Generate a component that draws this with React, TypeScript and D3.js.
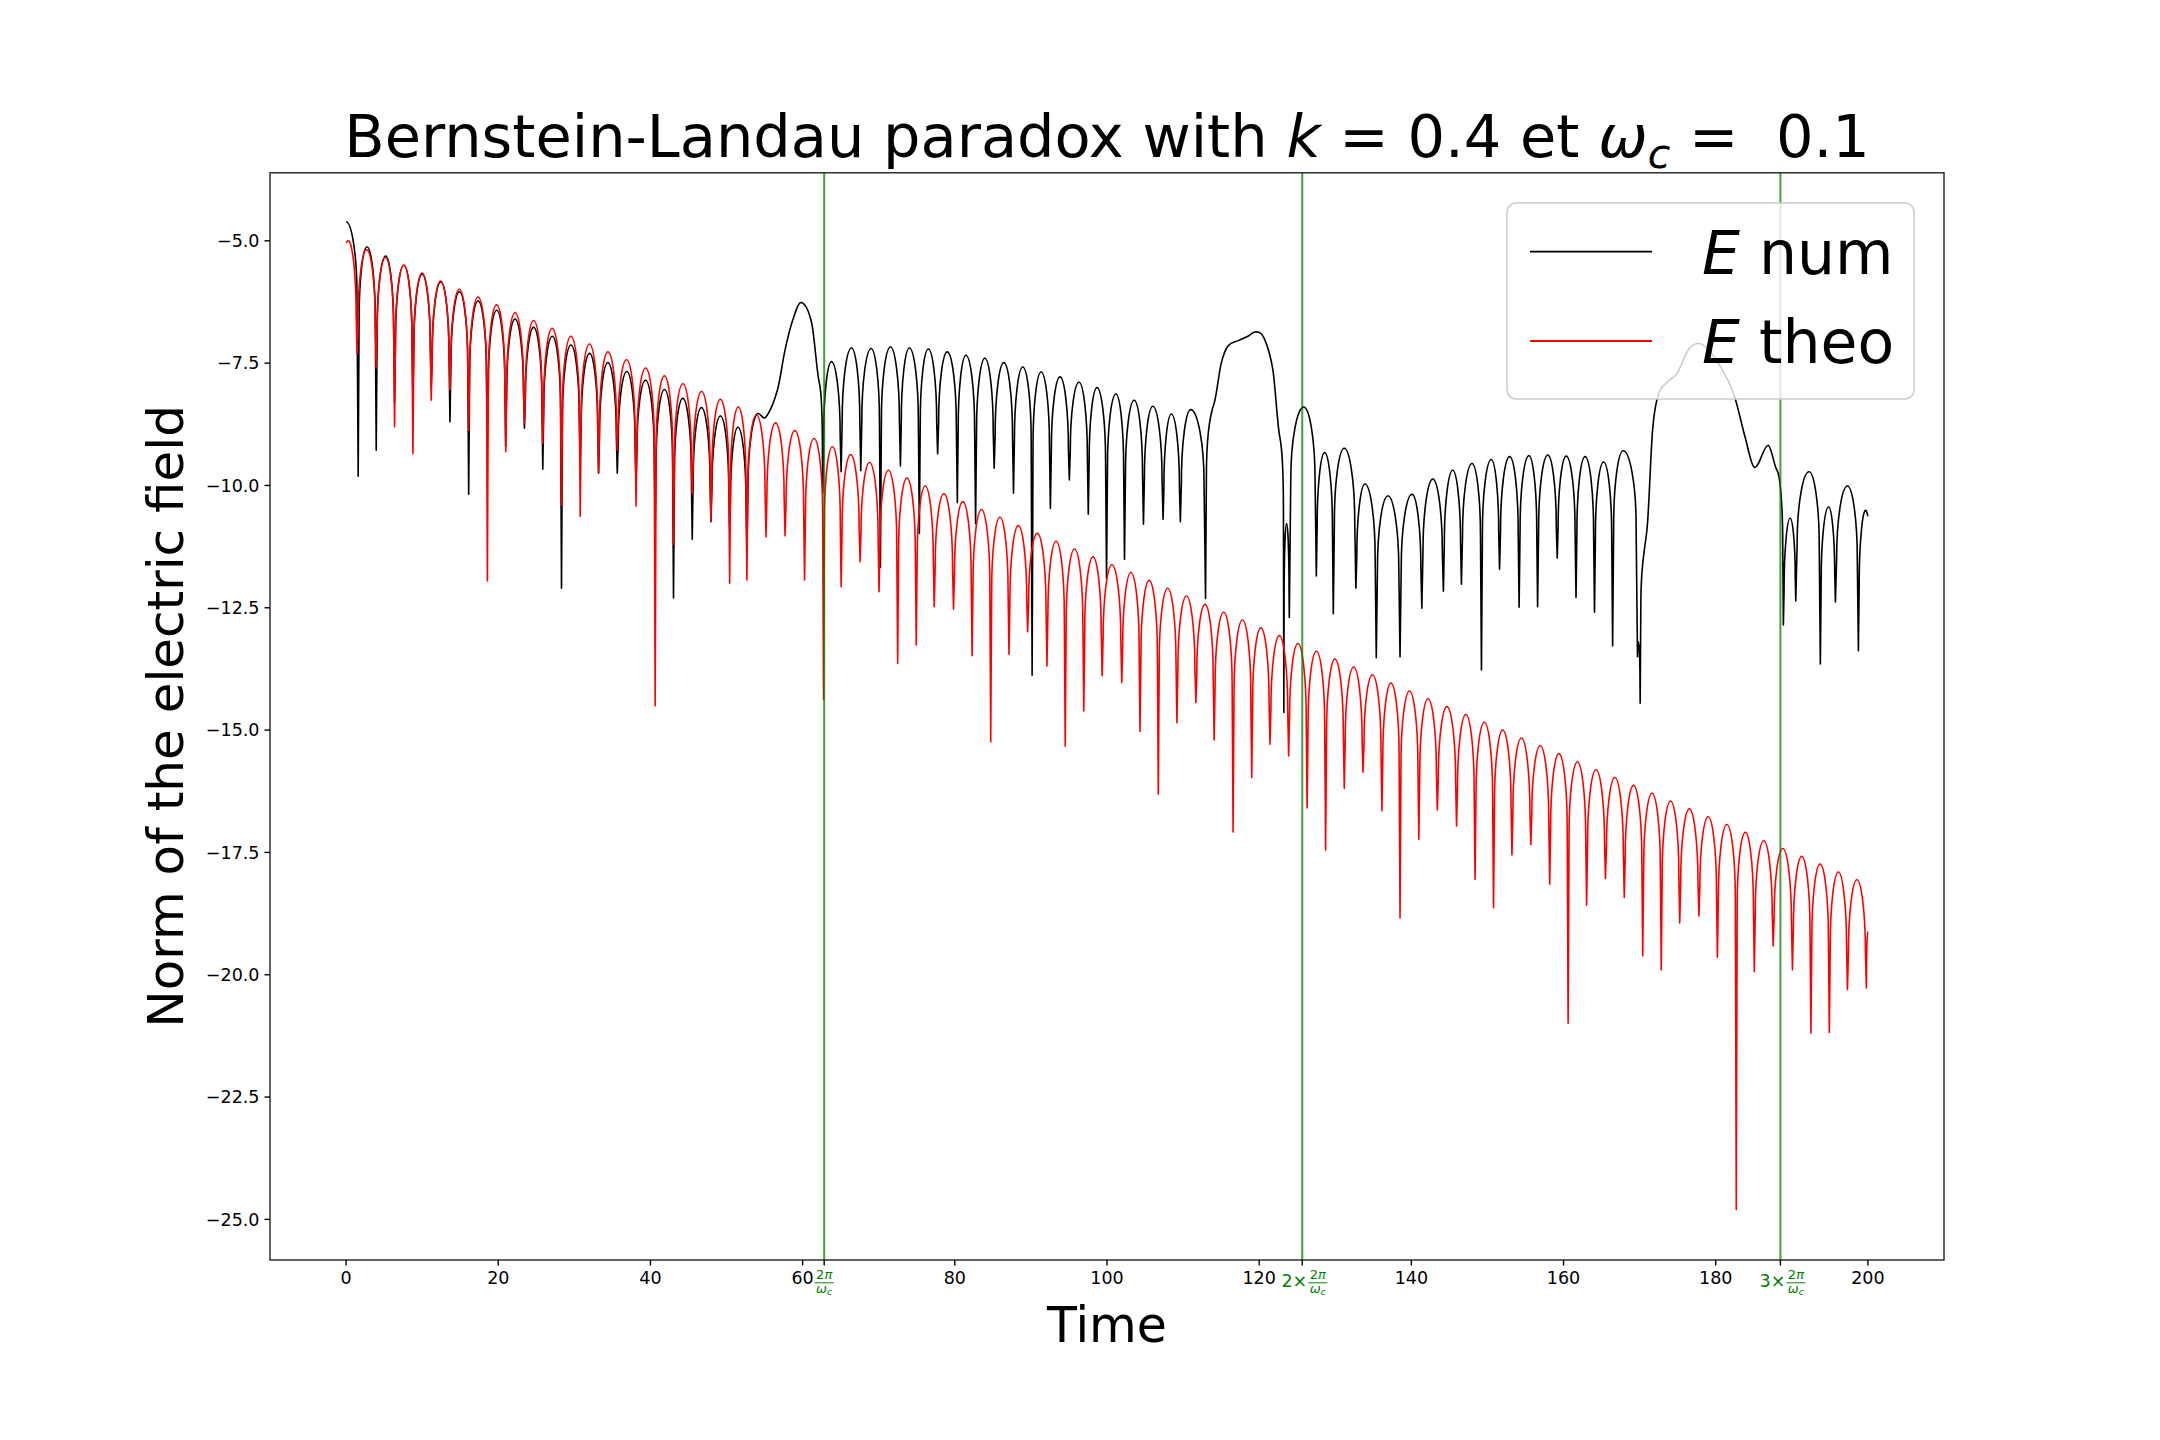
import React from "react";
import * as d3 from "d3";

const WIDTH = 2160;
const HEIGHT = 1440;
const AX = { left: 270, right: 1944, top: 172.8, bottom: 1260 };
const X_DOMAIN: [number, number] = [-10, 210];
const Y_DOMAIN: [number, number] = [-25.83, -3.61];

const xTickValues = [0, 20, 40, 60, 80, 100, 120, 140, 160, 180, 200];
const yTickValues = [-5, -7.5, -10, -12.5, -15, -17.5, -20, -22.5, -25];
const periodMarks = [62.83, 125.66, 188.5];
const periodPrefixes = ["", "2×", "3×"];

// ---- E num (black): cusps (sharp minima) and smooth points (arch tops, humps)
const numCuspTime = [1.59, 3.96, 6.37, 8.78, 11.19, 13.65, 16.11, 18.57, 20.98, 23.44, 25.85, 28.31, 30.77, 33.18, 35.64, 38.1, 40.62, 43.03, 45.49, 47.95, 50.41, 52.67, 62.65, 65.06, 67.64, 70.22, 72.85, 75.34, 77.74, 80.33, 82.73, 85.17, 87.71, 90.16, 92.56, 95.05, 97.54, 99.94, 102.3, 104.79, 107.37, 109.64, 112.95, 123.24, 123.96, 127.51, 129.74, 132.71, 135.39, 138.51, 141.38, 144.21, 146.58, 149.21, 151.59, 154.16, 156.59, 159.17, 161.64, 164.07, 166.45, 169.72, 170.07, 188.89, 190.52, 193.75, 195.73, 198.75];
const numCuspValue = [-9.81, -9.28, -8.3, -8.2, -7.98, -8.7, -10.18, -9.0, -9.2, -8.83, -9.67, -12.1, -9.5, -9.75, -9.75, -9.9, -10.8, -12.3, -11.1, -10.74, -10.9, -11.29, -10.15, -9.72, -9.7, -11.67, -9.6, -10.98, -9.35, -10.35, -10.78, -9.65, -10.16, -13.88, -10.47, -9.89, -10.59, -11.9, -11.51, -10.79, -10.69, -10.74, -12.31, -14.64, -12.7, -11.85, -12.62, -12.1, -13.52, -13.5, -12.51, -12.16, -12.02, -13.77, -11.71, -12.49, -12.48, -11.48, -12.29, -12.59, -13.28, -13.5, -14.45, -12.85, -12.36, -13.65, -12.38, -13.38];
const numSmoothTime = [0, 2.75, 5.2, 7.6, 10.0, 12.45, 14.9, 17.35, 19.8, 22.2, 24.65, 27.1, 29.55, 32.0, 34.4, 36.9, 39.35, 41.85, 44.25, 46.7, 49.2, 51.5, 54.18, 55.18, 56.69, 57.69, 58.7, 59.8, 61.2, 62.2, 63.79, 66.42, 69.0, 71.54, 74.03, 76.52, 79.01, 81.46, 83.95, 86.44, 88.93, 91.34, 93.83, 96.32, 98.68, 101.17, 103.57, 106.02, 108.46, 111.0, 114.08, 115.0, 115.9, 117.25, 118.4, 119.6, 120.65, 121.8, 122.7, 123.6, 125.86, 128.6, 131.18, 133.9, 136.92, 140.09, 142.82, 145.44, 147.97, 150.5, 152.92, 155.45, 157.93, 160.35, 162.83, 165.26, 167.84, 169.85, 170.96, 171.7, 172.44, 173.68, 174.92, 176.4, 177.64, 178.88, 180.37, 182.35, 183.84, 185.08, 186.91, 188.05, 189.78, 192.26, 194.83, 197.31, 199.79, 200.0];
const numSmoothValue = [-4.61, -5.12, -5.31, -5.5, -5.68, -5.84, -6.04, -6.23, -6.42, -6.6, -6.77, -6.95, -7.13, -7.3, -7.49, -7.67, -7.85, -8.04, -8.22, -8.41, -8.58, -8.81, -8.53, -8.6, -8.05, -7.23, -6.62, -6.26, -6.69, -7.91, -7.47, -7.19, -7.2, -7.17, -7.19, -7.21, -7.27, -7.34, -7.4, -7.49, -7.58, -7.68, -7.78, -7.89, -8.0, -8.13, -8.26, -8.38, -8.54, -8.45, -8.32, -7.51, -7.15, -7.04, -6.96, -6.86, -6.99, -7.64, -9.0, -10.78, -8.4, -9.33, -9.24, -9.97, -10.21, -10.18, -9.87, -9.69, -9.55, -9.47, -9.41, -9.39, -9.38, -9.4, -9.41, -9.52, -9.29, -13.2, -10.91, -8.87, -8.15, -7.88, -7.71, -7.23, -7.1, -7.2, -7.51, -8.12, -9.0, -9.63, -9.18, -9.69, -10.67, -9.72, -10.44, -10.01, -10.52, -10.63];

// ---- E theo (red): cusps and arch tops
const theoCuspTime = [1.44, 3.96, 6.37, 8.78, 11.19, 13.65, 16.11, 18.57, 20.98, 23.44, 25.85, 28.31, 30.77, 33.18, 35.64, 38.1, 40.62, 43.03, 45.49, 47.95, 50.41, 52.67, 55.18, 57.69, 60.25, 62.75, 65.06, 67.55, 70.04, 72.49, 74.93, 77.29, 79.83, 82.27, 84.72, 87.12, 89.57, 92.11, 94.51, 96.95, 99.36, 101.94, 104.34, 106.74, 109.19, 111.68, 114.08, 116.57, 119.02, 121.42, 123.87, 126.3, 128.73, 131.18, 133.65, 136.13, 138.51, 140.98, 143.41, 145.94, 148.37, 150.8, 153.22, 155.7, 158.18, 160.6, 163.03, 165.51, 167.98, 170.41, 172.84, 175.27, 177.79, 180.22, 182.7, 185.07, 187.55, 190.08, 192.51, 194.93, 197.31, 199.8];
const theoCuspValue = [-7.3, -7.6, -8.8, -9.35, -8.26, -8.05, -8.87, -11.95, -9.31, -8.73, -9.14, -10.4, -10.63, -9.74, -9.28, -10.42, -14.5, -11.2, -10.16, -10.71, -12.0, -11.93, -11.05, -11.03, -11.93, -14.37, -12.07, -11.56, -12.17, -13.64, -13.26, -12.48, -12.53, -13.48, -15.24, -13.45, -12.99, -13.69, -15.33, -14.61, -13.89, -14.03, -15.03, -16.31, -14.85, -14.44, -15.2, -17.08, -15.97, -15.29, -15.53, -16.59, -17.45, -16.19, -15.86, -16.65, -18.84, -17.23, -16.63, -16.96, -18.05, -18.63, -17.55, -17.34, -18.15, -20.99, -18.58, -18.03, -18.42, -19.61, -19.9, -18.94, -18.8, -19.64, -24.8, -19.94, -19.41, -19.9, -21.19, -21.18, -20.3, -20.27];
const theoSmoothTime = [0, 0.25, 2.7, 5.17, 7.58, 9.99, 12.42, 14.88, 17.34, 19.78, 22.21, 24.65, 27.08, 29.54, 31.98, 34.41, 36.87, 39.36, 41.83, 44.26, 46.72, 49.18, 51.54, 53.93, 56.44, 58.97, 61.5, 63.91, 66.31, 68.8, 71.27, 73.71, 76.11, 78.56, 81.05, 83.5, 85.92, 88.35, 90.84, 93.31, 95.73, 98.16, 100.65, 103.14, 105.54, 107.97, 110.44, 112.88, 115.33, 117.8, 120.22, 122.65, 125.09, 127.52, 129.96, 132.42, 134.89, 137.32, 139.75, 142.2, 144.68, 147.16, 149.59, 152.01, 154.46, 156.94, 159.39, 161.82, 164.27, 166.75, 169.2, 171.63, 174.06, 176.53, 179.01, 181.46, 183.89, 186.31, 188.82, 191.3, 193.72, 196.12, 198.56, 200.0];
const theoSmoothValue = [-5.04, -5.0, -5.18, -5.34, -5.5, -5.66, -5.82, -5.99, -6.15, -6.31, -6.47, -6.63, -6.79, -6.95, -7.11, -7.27, -7.43, -7.6, -7.76, -7.92, -8.08, -8.24, -8.4, -8.56, -8.72, -8.88, -9.04, -9.21, -9.37, -9.53, -9.69, -9.85, -10.01, -10.17, -10.33, -10.49, -10.65, -10.82, -10.98, -11.14, -11.3, -11.46, -11.62, -11.78, -11.94, -12.1, -12.26, -12.43, -12.59, -12.75, -12.91, -13.07, -13.23, -13.39, -13.55, -13.71, -13.87, -14.04, -14.2, -14.36, -14.52, -14.68, -14.84, -15.0, -15.16, -15.32, -15.48, -15.65, -15.81, -15.97, -16.13, -16.29, -16.45, -16.61, -16.77, -16.93, -17.09, -17.26, -17.42, -17.58, -17.74, -17.9, -18.06, -19.11];

type Pt = { x: number; y: number; cusp: boolean };

function mergeSeries(
  ct: number[], cv: number[], st: number[], sv: number[],
  x: d3.ScaleLinear<number, number>, y: d3.ScaleLinear<number, number>
): Pt[] {
  const rows = [
    ...ct.map((t, i) => ({ t, v: cv[i], cusp: true })),
    ...st.map((t, i) => ({ t, v: sv[i], cusp: false })),
  ].sort((a, b) => a.t - b.t);
  return rows.map((r) => ({ x: x(r.t), y: y(r.v), cusp: r.cusp }));
}

function cuspPath(pts: Pt[], knee: number): string {
  const n = pts.length;
  const slope = (a: Pt, b: Pt) => (b.y - a.y) / (b.x - a.x);
  const m = pts.map((p, i) => {
    if (p.cusp) return 0;
    const a = pts[i - 1];
    const b = pts[i + 1];
    const as = !!a && !a.cusp;
    const bs = !!b && !b.cusp;
    if (as && bs) return slope(a, b);
    if (as && !b) return slope(a, p);
    if (bs && !a) return slope(p, b);
    if (as) return 0.5 * slope(a, p);
    if (bs) return 0.5 * slope(p, b);
    return 0;
  });
  const path = d3.path();
  path.moveTo(pts[0].x, pts[0].y);
  for (let i = 0; i < n - 1; i++) {
    const a = pts[i];
    const b = pts[i + 1];
    const dx = b.x - a.x;
    if (!a.cusp && !b.cusp) {
      path.bezierCurveTo(a.x + dx / 3, a.y + (m[i] * dx) / 3, b.x - dx / 3, b.y - (m[i + 1] * dx) / 3, b.x, b.y);
    } else if (!a.cusp && b.cusp) {
      const depth = b.y - a.y;
      const kd = Math.sign(depth) * Math.min(knee, 0.7 * Math.abs(depth));
      const kx = a.x + 0.9 * dx;
      const ky = a.y + kd;
      const hx = (kx - a.x) * 0.5;
      path.bezierCurveTo(a.x + hx, a.y + m[i] * hx, kx, ky - 0.55 * kd, kx, ky);
      path.lineTo(b.x, b.y);
    } else if (a.cusp && !b.cusp) {
      const depth = a.y - b.y;
      const kd = Math.sign(depth) * Math.min(knee, 0.7 * Math.abs(depth));
      const kx = b.x - 0.9 * dx;
      const ky = b.y + kd;
      const hx = (b.x - kx) * 0.5;
      path.lineTo(kx, ky);
      path.bezierCurveTo(kx, ky - 0.55 * kd, b.x - hx, b.y - m[i + 1] * hx, b.x, b.y);
    } else {
      path.lineTo(b.x, b.y);
    }
  }
  return path.toString();
}

const FONT = "DejaVu Sans";
const GREEN = "#008000";

function Fraction({ cx }: { cx: number }) {
  return (
    <g fill={GREEN} fontFamily={FONT}>
      <text x={cx} y={1279.3} fontSize={13} textAnchor="middle">
        2<tspan fontStyle="italic">π</tspan>
      </text>
      <line x1={cx - 9.5} x2={cx + 9.5} y1={1282.8} y2={1282.8} stroke={GREEN} strokeWidth={1} />
      <text x={cx} y={1292.5} fontSize={13} textAnchor="middle">
        <tspan fontStyle="italic">ω</tspan>
        <tspan fontStyle="italic" fontSize={9.5} dy={2.5}>c</tspan>
      </text>
    </g>
  );
}

export default function App() {
  const x = d3.scaleLinear().domain(X_DOMAIN).range([AX.left, AX.right]);
  const y = d3.scaleLinear().domain(Y_DOMAIN).range([AX.bottom, AX.top]);
  const knee = Math.abs(y(0) - y(1.5));

  const numPts = mergeSeries(numCuspTime, numCuspValue, numSmoothTime, numSmoothValue, x, y);
  const theoPts = mergeSeries(theoCuspTime, theoCuspValue, theoSmoothTime, theoSmoothValue, x, y);
  const numD = cuspPath(numPts, knee);
  const theoD = cuspPath(theoPts, knee);

  const fmtY = (v: number) => d3.format(".1f")(v).replace("-", "\u2212");

  return (
    <svg
      width={WIDTH}
      height={HEIGHT}
      viewBox={`0 0 ${WIDTH} ${HEIGHT}`}
      style={{ display: "block", background: "#fff", position: "absolute", left: 0, top: 0 }}
    >
      <rect x={0} y={0} width={WIDTH} height={HEIGHT} fill="#fff" />
      {/* curves */}
      <path d={numD} fill="none" stroke="#000" strokeWidth={1.6} strokeLinejoin="round" />
      <path d={theoD} fill="none" stroke="#ff0000" strokeWidth={1.6} strokeLinejoin="round" />
      {/* vertical cyclotron period lines */}
      {periodMarks.map((t) => (
        <line key={t} x1={x(t)} x2={x(t)} y1={AX.top} y2={AX.bottom} stroke={GREEN} strokeOpacity={0.75} strokeWidth={2} />
      ))}
      {/* spines */}
      <rect x={AX.left} y={AX.top} width={AX.right - AX.left} height={AX.bottom - AX.top} fill="none" stroke="#222" strokeWidth={1.4} />
      {/* x ticks */}
      {[...xTickValues, ...periodMarks].map((t) => (
        <line key={"xt" + t} x1={x(t)} x2={x(t)} y1={AX.bottom} y2={AX.bottom + 5.5} stroke="#000" strokeWidth={1.4} />
      ))}
      {xTickValues.map((t) => (
        <text key={"xl" + t} x={x(t)} y={1284} fontSize={17.5} fontFamily={FONT} textAnchor="middle" fill="#000">
          {t}
        </text>
      ))}
      {periodMarks.map((t, i) => {
        const cx = x(t);
        if (periodPrefixes[i] === "") return <Fraction key={"pm" + t} cx={cx} />;
        return (
          <g key={"pm" + t}>
            <text x={cx + 5} y={1287.3} fontSize={17.5} fontFamily={FONT} textAnchor="end" fill={GREEN}>
              {periodPrefixes[i]}
            </text>
            <Fraction cx={cx + 15.5} />
          </g>
        );
      })}
      {/* y ticks */}
      {yTickValues.map((v) => (
        <g key={"yt" + v}>
          <line x1={AX.left - 5.5} x2={AX.left} y1={y(v)} y2={y(v)} stroke="#000" strokeWidth={1.4} />
          <text x={AX.left - 10.5} y={y(v) + 6.3} fontSize={17.5} fontFamily={FONT} textAnchor="end" fill="#000">
            {fmtY(v)}
          </text>
        </g>
      ))}
      {/* axis labels */}
      <text x={(AX.left + AX.right) / 2} y={1341.7} fontSize={49} fontFamily={FONT} textAnchor="middle" fill="#000">
        Time
      </text>
      <text
        transform={`translate(183,${(AX.top + AX.bottom) / 2}) rotate(-90)`}
        fontSize={50}
        fontFamily={FONT}
        textAnchor="middle"
        fill="#000"
      >
        Norm of the electric field
      </text>
      {/* title */}
      <text x={(AX.left + AX.right) / 2} y={156.7} fontSize={59} fontFamily={FONT} textAnchor="middle" fill="#000">
        Bernstein-Landau paradox with <tspan fontStyle="italic">k</tspan>
        {" = 0.4 et "}
        <tspan fontStyle="italic">ω</tspan>
        <tspan fontStyle="italic" fontSize={41} dy={11}>c</tspan>
        <tspan dy={-11}>{" =\u00A0 0.1"}</tspan>
      </text>
      {/* legend */}
      <g>
        <rect x={1507} y={203} width={407} height={196} rx={9} ry={9} fill="#fff" fillOpacity={0.8} stroke="#cccccc" strokeWidth={1.5} />
        <line x1={1530} x2={1652} y1={251.7} y2={251.7} stroke="#000" strokeWidth={1.8} />
        <line x1={1530} x2={1652} y1={341} y2={341} stroke="#ff0000" strokeWidth={1.8} />
        <text x={1702} y={274} fontSize={60} fontFamily={FONT} fill="#000">
          <tspan fontStyle="italic">E</tspan>
          {" num"}
        </text>
        <text x={1702} y={363} fontSize={60} fontFamily={FONT} fill="#000">
          <tspan fontStyle="italic">E</tspan>
          {" theo"}
        </text>
      </g>
    </svg>
  );
}
